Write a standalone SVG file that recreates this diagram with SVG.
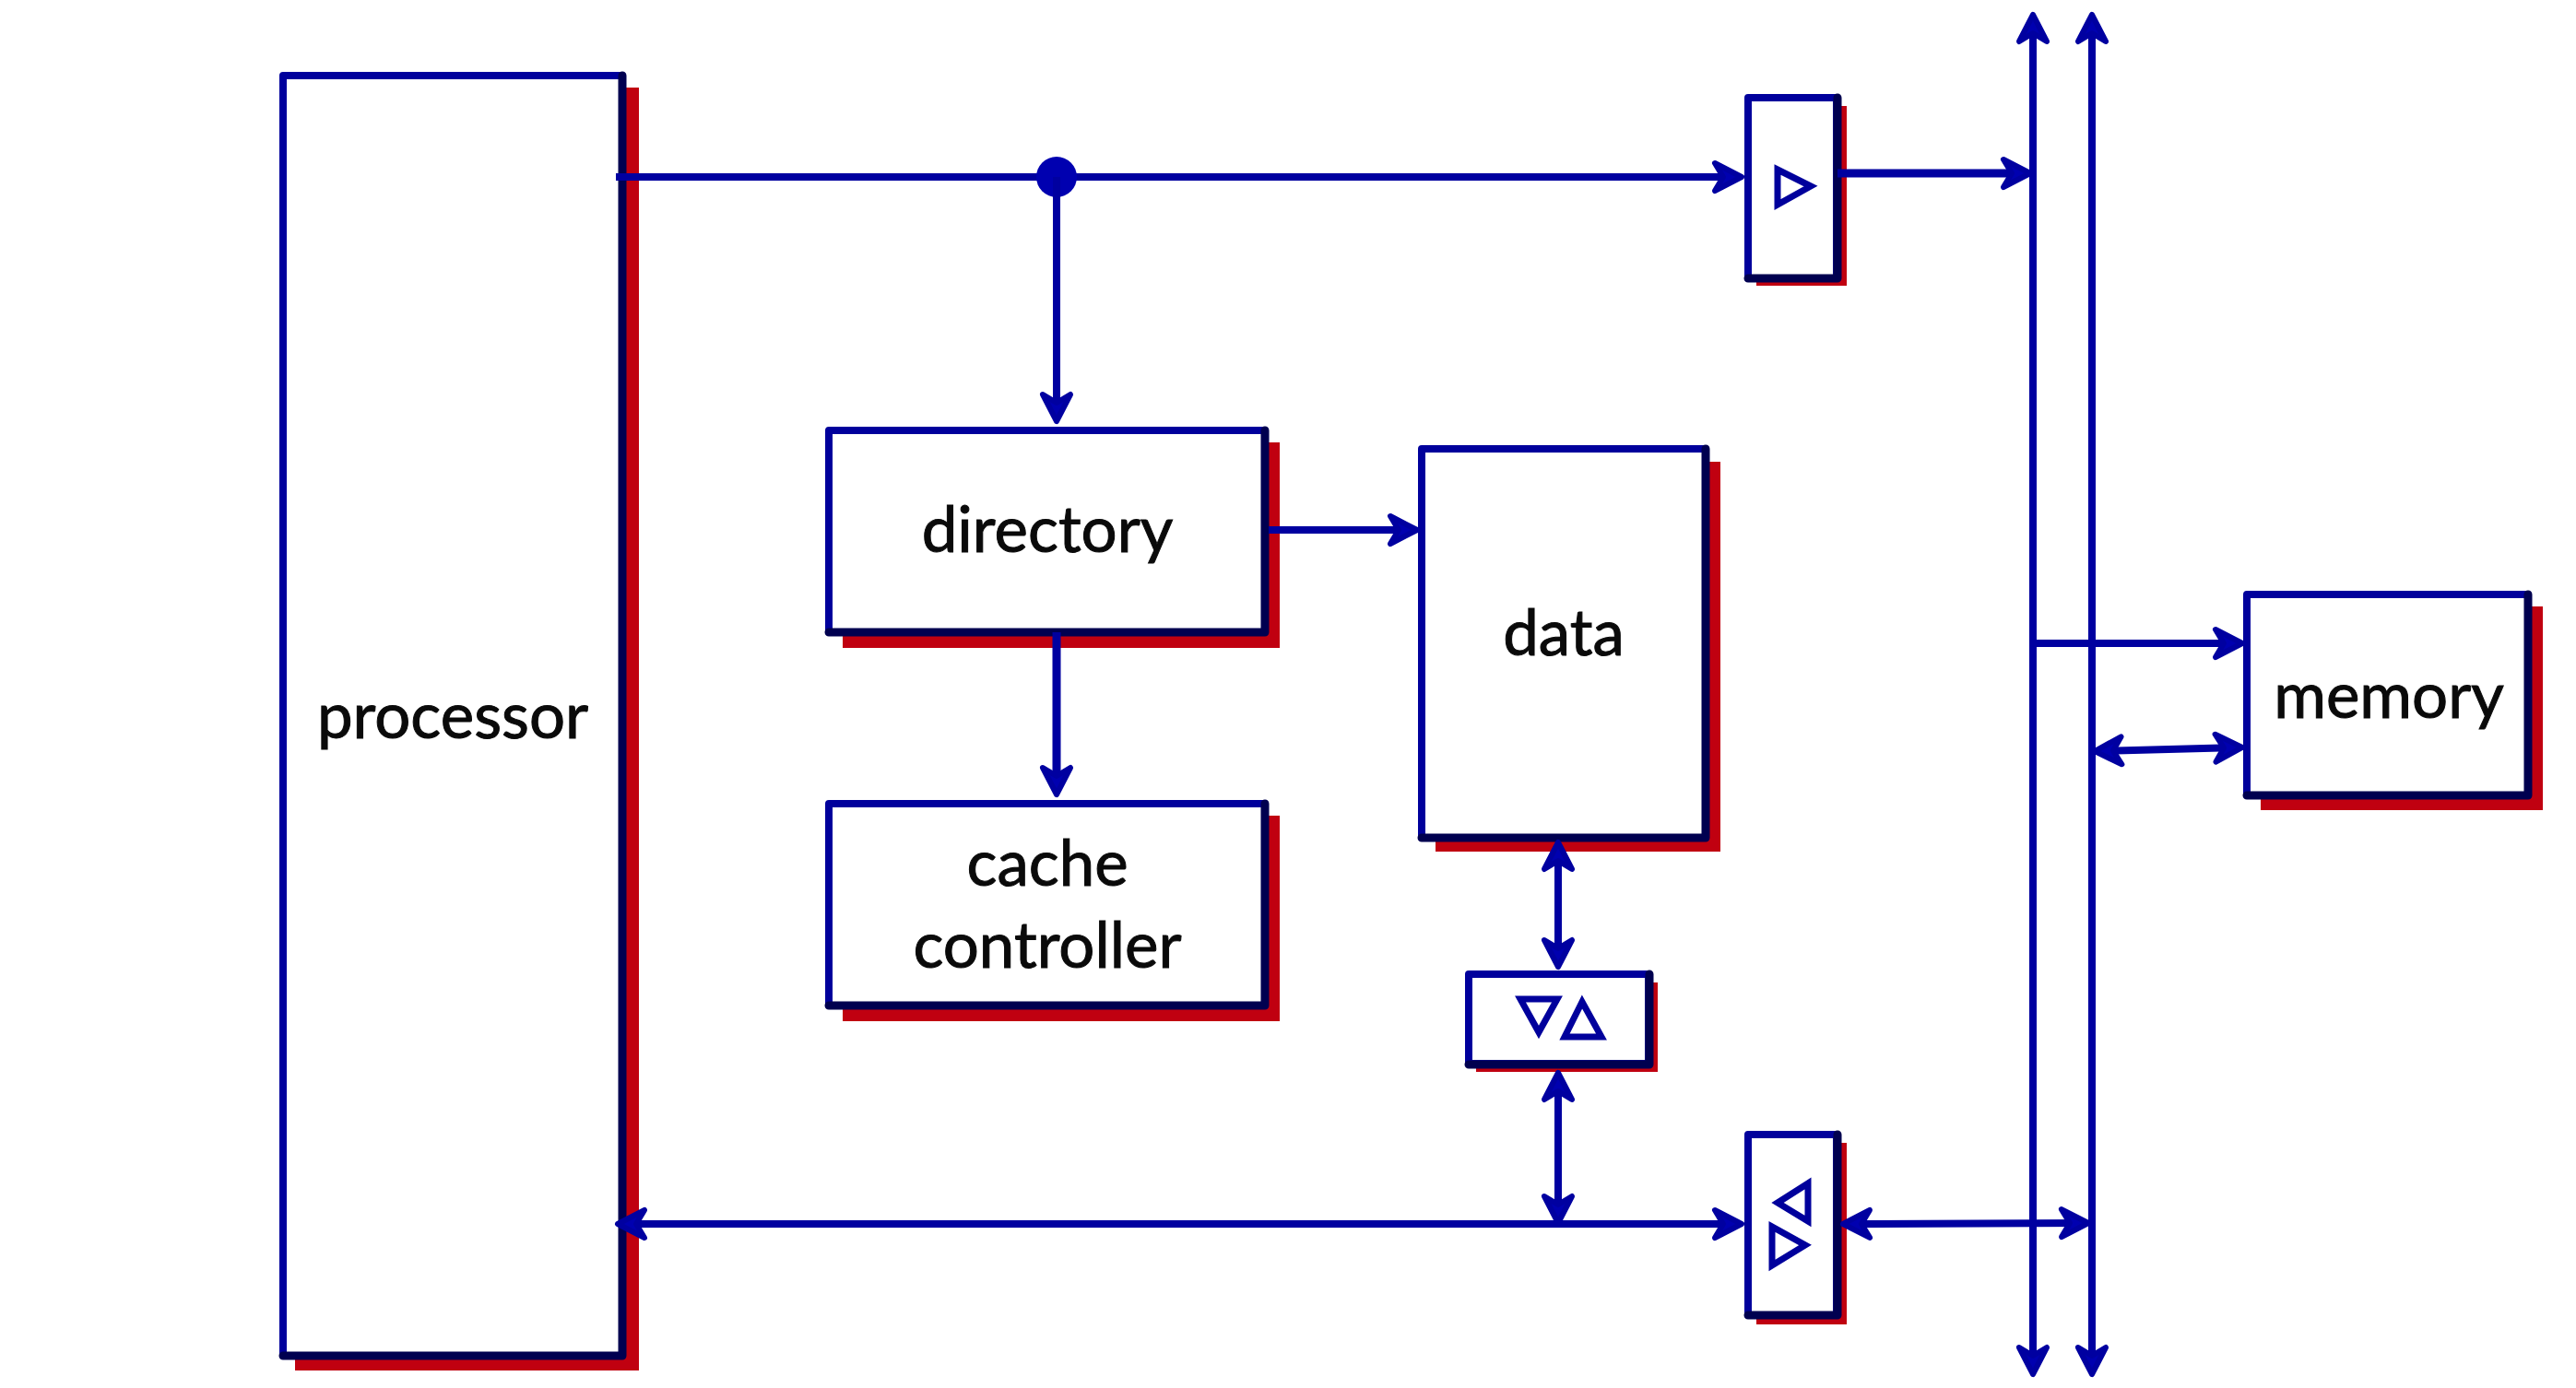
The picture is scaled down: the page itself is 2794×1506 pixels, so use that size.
<svg xmlns="http://www.w3.org/2000/svg" width="2794" height="1506" viewBox="0 0 2794 1506">
<style>
.shadow{fill:#c00010;stroke:none}
.box{fill:#fff;stroke:#00009c;stroke-width:8;stroke-linejoin:round}
.edge{fill:none;stroke:#000050;stroke-width:9;stroke-linejoin:round;stroke-linecap:round}
.tri{fill:#fff;stroke:#00009c;stroke-width:7;stroke-linejoin:miter}
.lbl{font-family:Lato,"Open Sans",sans-serif;font-size:69px;fill:#0a0a0a;text-anchor:middle;stroke:#0a0a0a;stroke-width:1}
.c{fill:none;stroke:#0000a0;stroke-width:8}
.a{marker-end:url(#h)}
.b{marker-start:url(#h);marker-end:url(#h)}
</style>
<defs>
<marker id="h" markerUnits="userSpaceOnUse" viewBox="-40 -24 50 48" refX="-4" refY="0" markerWidth="50" markerHeight="48" orient="auto-start-reverse">
<path d="M-29,-15 L0,0 L-29,15 L-20,0 Z" fill="#0000b0" stroke="#0000a0" stroke-width="6" stroke-linejoin="round"/>
</marker>
</defs>
<rect width="2794" height="1506" fill="#fff"/>
<g id="processor"><rect class="shadow" x="320" y="95" width="373" height="1392"/><rect class="box" x="307" y="82" width="368" height="1389"/><path class="edge" d="M675,82V1471H307"/><text class="lbl" x="491" y="801">processor</text></g>
<g id="directory"><rect class="shadow" x="914" y="480" width="474" height="223"/><rect class="box" x="899" y="467" width="473" height="219"/><path class="edge" d="M1372,467V686H899"/><text class="lbl" x="1136" y="599">directory</text></g>
<g id="cache-controller"><rect class="shadow" x="914" y="885" width="474" height="223"/><rect class="box" x="899" y="872" width="473" height="219"/><path class="edge" d="M1372,872V1091H899"/><text class="lbl" x="1136" y="961">cache</text><text class="lbl" x="1136" y="1050">controller</text></g>
<g id="data"><rect class="shadow" x="1557" y="501" width="309" height="423"/><rect class="box" x="1542" y="487" width="308" height="422"/><path class="edge" d="M1850,487V909H1542"/><text class="lbl" x="1696" y="711">data</text></g>
<g id="memory"><rect class="shadow" x="2452" y="658" width="306" height="221"/><rect class="box" x="2437" y="645" width="305" height="218"/><path class="edge" d="M2742,645V863H2437"/><text class="lbl" x="2591" y="779">memory</text></g>
<g id="buffer-top"><rect class="shadow" x="1905" y="115" width="98" height="195"/><rect class="box" x="1896" y="106" width="96" height="196"/><path class="edge" d="M1993,106V302H1896"/><path class="tri" d="M1928,184V222L1964,202Z"/></g>
<g id="transceiver-data"><rect class="shadow" x="1601" y="1066" width="197" height="97"/><rect class="box" x="1593" y="1057" width="195" height="97"/><path class="edge" d="M1789,1057V1155H1593"/><path class="tri" d="M1649,1084H1689L1669,1120Z"/><path class="tri" d="M1716,1087L1697,1125H1737Z"/></g>
<g id="transceiver-bus"><rect class="shadow" x="1905" y="1240" width="98" height="197"/><rect class="box" x="1896" y="1231" width="96" height="196"/><path class="edge" d="M1993,1231V1427H1896"/><path class="tri" d="M1961,1284L1928,1305L1961,1325Z"/><path class="tri" d="M1922,1331V1373L1958,1351Z"/></g>
<g id="connectors">
<path class="c a" d="M668,192H1885"/>
<circle cx="1146" cy="192" r="22" fill="#0000b0"/>
<path class="c a" d="M1146,192V453"/>
<path class="c a" style="stroke-width:9" d="M1993,188H2198"/>
<path class="c b" d="M2205,20V1487"/>
<path class="c b" d="M2269,20V1487"/>
<path class="c a" d="M1376,575H1533"/>
<path class="c a" style="stroke-width:9" d="M1146,686V858"/>
<path class="c b" d="M1690,918V1045"/>
<path class="c b" d="M1690,1168V1323"/>
<path class="c b" d="M674,1328H1885"/>
<path class="c b" d="M2003,1328L2261,1327"/>
<path class="c a" d="M2205,698H2428"/>
<path class="c b" d="M2276,815L2428,811"/>
</g>
</svg>
